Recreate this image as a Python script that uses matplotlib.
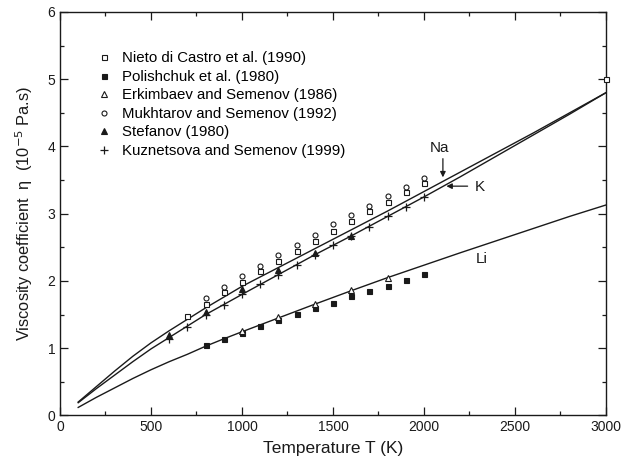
import numpy as np
import matplotlib
matplotlib.use("Agg")
import matplotlib.pyplot as plt
from matplotlib.ticker import MultipleLocator

plt.rcParams['font.family'] = ['Liberation Sans', 'DejaVu Sans']

# model curves (T in K, eta in 1e-5 Pa.s)
t_curve = [100, 200, 300, 400, 500, 600, 700, 800, 900, 1000, 1200, 1400,
           1600, 1800, 2000, 2200, 2400, 2600, 2800, 3000]
na_curve = [0.20, 0.43, 0.66, 0.88, 1.08, 1.26, 1.43, 1.60, 1.76, 1.92, 2.20,
            2.48, 2.76, 3.04, 3.33, 3.62, 3.91, 4.20, 4.50, 4.80]
k_curve = [0.19, 0.40, 0.60, 0.80, 0.99, 1.16, 1.33, 1.50, 1.65, 1.80, 2.095,
           2.39, 2.67, 2.96, 3.25, 3.55, 3.86, 4.17, 4.48, 4.80]
li_curve = [0.12, 0.27, 0.41, 0.55, 0.68, 0.80, 0.91, 1.03, 1.14, 1.245, 1.45,
            1.655, 1.855, 2.05, 2.235, 2.42, 2.60, 2.78, 2.96, 3.13]

# experimental data
nieto_t = [700, 800, 900, 1000, 1100, 1200, 1300, 1400, 1500, 1600, 1700, 1800, 1900, 2000, 3000]
nieto_v = [1.485, 1.66, 1.83, 1.99, 2.15, 2.29, 2.45, 2.59, 2.75, 2.89, 3.04, 3.18, 3.33, 3.46, 5.0]

polish_t = [800, 900, 1000, 1100, 1200, 1300, 1400, 1500, 1600, 1700, 1800, 1900, 2000]
polish_v = [1.045, 1.13, 1.23, 1.33, 1.415, 1.51, 1.60, 1.68, 1.77, 1.85, 1.93, 2.02, 2.10]

erkim_t = [1000, 1200, 1400, 1600, 1800]
erkim_v = [1.25, 1.47, 1.66, 1.86, 2.05]

mukh_t = [800, 900, 1000, 1100, 1200, 1300, 1400, 1500, 1600, 1700, 1800, 1900, 2000]
mukh_v = [1.74, 1.91, 2.07, 2.23, 2.38, 2.54, 2.69, 2.84, 2.98, 3.12, 3.26, 3.40, 3.53]

stef_t = [600, 800, 1000, 1200, 1400, 1600]
stef_v = [1.20, 1.545, 1.88, 2.165, 2.42, 2.67]

kuz_t = [600, 700, 800, 900, 1000, 1100, 1200, 1300, 1400, 1500, 1600, 1700, 1800, 1900, 2000]
kuz_v = [1.13, 1.32, 1.495, 1.645, 1.80, 1.95, 2.095, 2.24, 2.39, 2.53, 2.67, 2.81, 2.96, 3.10, 3.25]

fig = plt.figure(figsize=(6.39, 4.68), dpi=100)
ax = fig.add_axes([0.0939, 0.1122, 0.8544, 0.8622])

c = '#1a1a1a'
ax.plot(t_curve, na_curve, color=c, lw=1.0)
ax.plot(t_curve, k_curve, color=c, lw=1.0)
ax.plot(t_curve, li_curve, color=c, lw=1.0)

ms = 3.6
ax.plot(nieto_t, nieto_v, 's', ms=ms, mfc='white', mec=c, mew=0.8, ls='none',
        label='Nieto di Castro et al. (1990)', clip_on=False, zorder=5)
ax.plot(polish_t, polish_v, 's', ms=ms, mfc=c, mec=c, mew=0.8, ls='none',
        label='Polishchuk et al. (1980)')
ax.plot(erkim_t, erkim_v, '^', ms=ms + 0.4, mfc='white', mec=c, mew=0.8, ls='none',
        label='Erkimbaev and Semenov (1986)')
ax.plot(mukh_t, mukh_v, 'o', ms=ms, mfc='white', mec=c, mew=0.8, ls='none',
        label='Mukhtarov and Semenov (1992)')
ax.plot(stef_t, stef_v, '^', ms=ms + 0.6, mfc=c, mec=c, mew=0.8, ls='none',
        label='Stefanov (1980)')
ax.plot(kuz_t, kuz_v, '+', ms=6, mec=c, mew=0.9, ls='none',
        label='Kuznetsova and Semenov (1999)')

# curve labels
ax.text(2088, 3.98, 'Na', fontsize=11, ha='center', va='center', color=c)
ax.annotate('', xy=(2104, 3.50), xytext=(2104, 3.86),
            arrowprops=dict(arrowstyle='-|>', color=c, lw=0.9, mutation_scale=8))
ax.text(2308, 3.40, 'K', fontsize=11, ha='center', va='center', color=c)
ax.annotate('', xy=(2108, 3.41), xytext=(2255, 3.41),
            arrowprops=dict(arrowstyle='-|>', color=c, lw=0.9, mutation_scale=8))
ax.text(2319, 2.33, 'Li', fontsize=11, ha='center', va='center', color=c)

ax.set_xlim(0, 3000)
ax.set_ylim(0, 6)
ax.xaxis.set_major_locator(MultipleLocator(500))
ax.xaxis.set_minor_locator(MultipleLocator(250))
ax.yaxis.set_major_locator(MultipleLocator(1))
ax.yaxis.set_minor_locator(MultipleLocator(0.5))
ax.tick_params(which='both', direction='in', top=True, right=True, labelsize=10, colors=c)
ax.tick_params(which='major', length=6, width=0.9)
ax.tick_params(which='minor', length=3, width=0.9)
for s in ax.spines.values():
    s.set_linewidth(1.0)
    s.set_color(c)

ax.set_xlabel('Temperature T (K)', fontsize=12.5, color=c, labelpad=5)
ax.set_ylabel('Viscosity coefficient  η  (10$^{-5}$ Pa.s)', fontsize=11.8, color=c, labelpad=9)

ax.legend(loc='upper left', bbox_to_anchor=(0.055, 0.917), frameon=False, fontsize=10.8,
          handlelength=1.0, handletextpad=0.74, labelspacing=0.3, borderaxespad=0)

fig.savefig('out.png', dpi=100)
